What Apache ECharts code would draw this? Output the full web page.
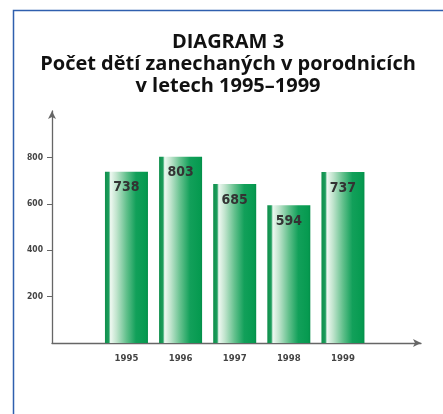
<!DOCTYPE html>
<html>
<head>
<meta charset="utf-8">
<script src="https://cdn.jsdelivr.net/npm/echarts@6/dist/echarts.min.js"></script>
<style>
html,body{margin:0;padding:0;background:#fff;}
#chart{width:443px;height:414px;}
</style>
</head>
<body>
<div id="chart"></div>
<script>
var titleLines = ['DIAGRAM 3', 'Počet dětí zanechaných v porodnicích', 'v letech 1995–1999'];
var years = ['1995', '1996', '1997', '1998', '1999'];
var counts = [738, 803, 685, 594, 737];
var yTicks = [200, 400, 600, 800];

var chart = echarts.init(document.getElementById('chart'), null, {renderer: 'canvas'});

var barGradient = new echarts.graphic.LinearGradient(0, 0, 1, 0, [
  {offset: 0, color: '#0f8f4b'},
  {offset: 0.09, color: '#1c9d5c'},
  {offset: 0.13, color: '#eef8f1'},
  {offset: 0.27, color: '#c0e4cd'},
  {offset: 0.5, color: '#62c08c'},
  {offset: 0.72, color: '#12a05a'},
  {offset: 0.95, color: '#069a50'},
  {offset: 1, color: '#048d49'}
]);

var numFont = "'DejaVu Sans Condensed', 'DejaVu Sans', sans-serif";

var option = {
  backgroundColor: '#ffffff',
  animation: false,
  title: {
    text: titleLines.join('\n'),
    left: 223,
    textAlign: 'center',
    top: 26,
    textStyle: {
      fontFamily: "'Open Sans', sans-serif",
      fontWeight: 'bold',
      fontSize: 20,
      lineHeight: 22,
      color: '#111111'
    }
  },
  graphic: [{
    type: 'polyline',
    shape: {points: [[13.5, 414], [13.5, 10.5], [443, 10.5]]},
    style: {stroke: '#2f5fae', lineWidth: 1.5, fill: null},
    silent: true
  }],
  grid: [
    {left: 52, right: 22, top: 111, bottom: 71},
    {left: 99.4, right: 73, top: 111, bottom: 71}
  ],
  xAxis: [
    {
      gridIndex: 0, type: 'value', min: 0, max: 1,
      axisLine: {show: true, lineStyle: {color: '#666666', width: 1.3}, symbol: ['none', 'arrow'], symbolSize: [6, 8]},
      axisTick: {show: false}, axisLabel: {show: false}, splitLine: {show: false}
    },
    {
      gridIndex: 1, type: 'category', data: years,
      axisLine: {show: false}, axisTick: {show: false}, splitLine: {show: false},
      axisLabel: {margin: 11, fontFamily: numFont, fontSize: 9.5, fontWeight: 'bold', color: '#444444'}
    }
  ],
  yAxis: [
    {
      gridIndex: 0, type: 'value', min: 0, max: 1000, interval: 200,
      axisLine: {show: true, lineStyle: {color: '#666666', width: 1.3}, symbol: ['none', 'arrow'], symbolSize: [6, 8]},
      axisTick: {show: true, length: 5, customValues: yTicks, lineStyle: {color: '#666666'}},
      axisLabel: {customValues: yTicks, margin: 9, fontFamily: numFont, fontSize: 8.5, fontWeight: 'bold', color: '#444444'},
      splitLine: {show: false}
    },
    {
      gridIndex: 1, type: 'value', min: 0, max: 1000, show: false
    }
  ],
  series: [{
    type: 'bar',
    xAxisIndex: 1,
    yAxisIndex: 1,
    data: counts,
    barWidth: 43,
    itemStyle: {color: barGradient},
    label: {
      show: true,
      position: 'insideTop',
      distance: 9,
      fontFamily: numFont,
      fontSize: 14,
      fontWeight: 'bold',
      color: '#333333'
    }
  }]
};
chart.setOption(option);
</script>
</body>
</html>
